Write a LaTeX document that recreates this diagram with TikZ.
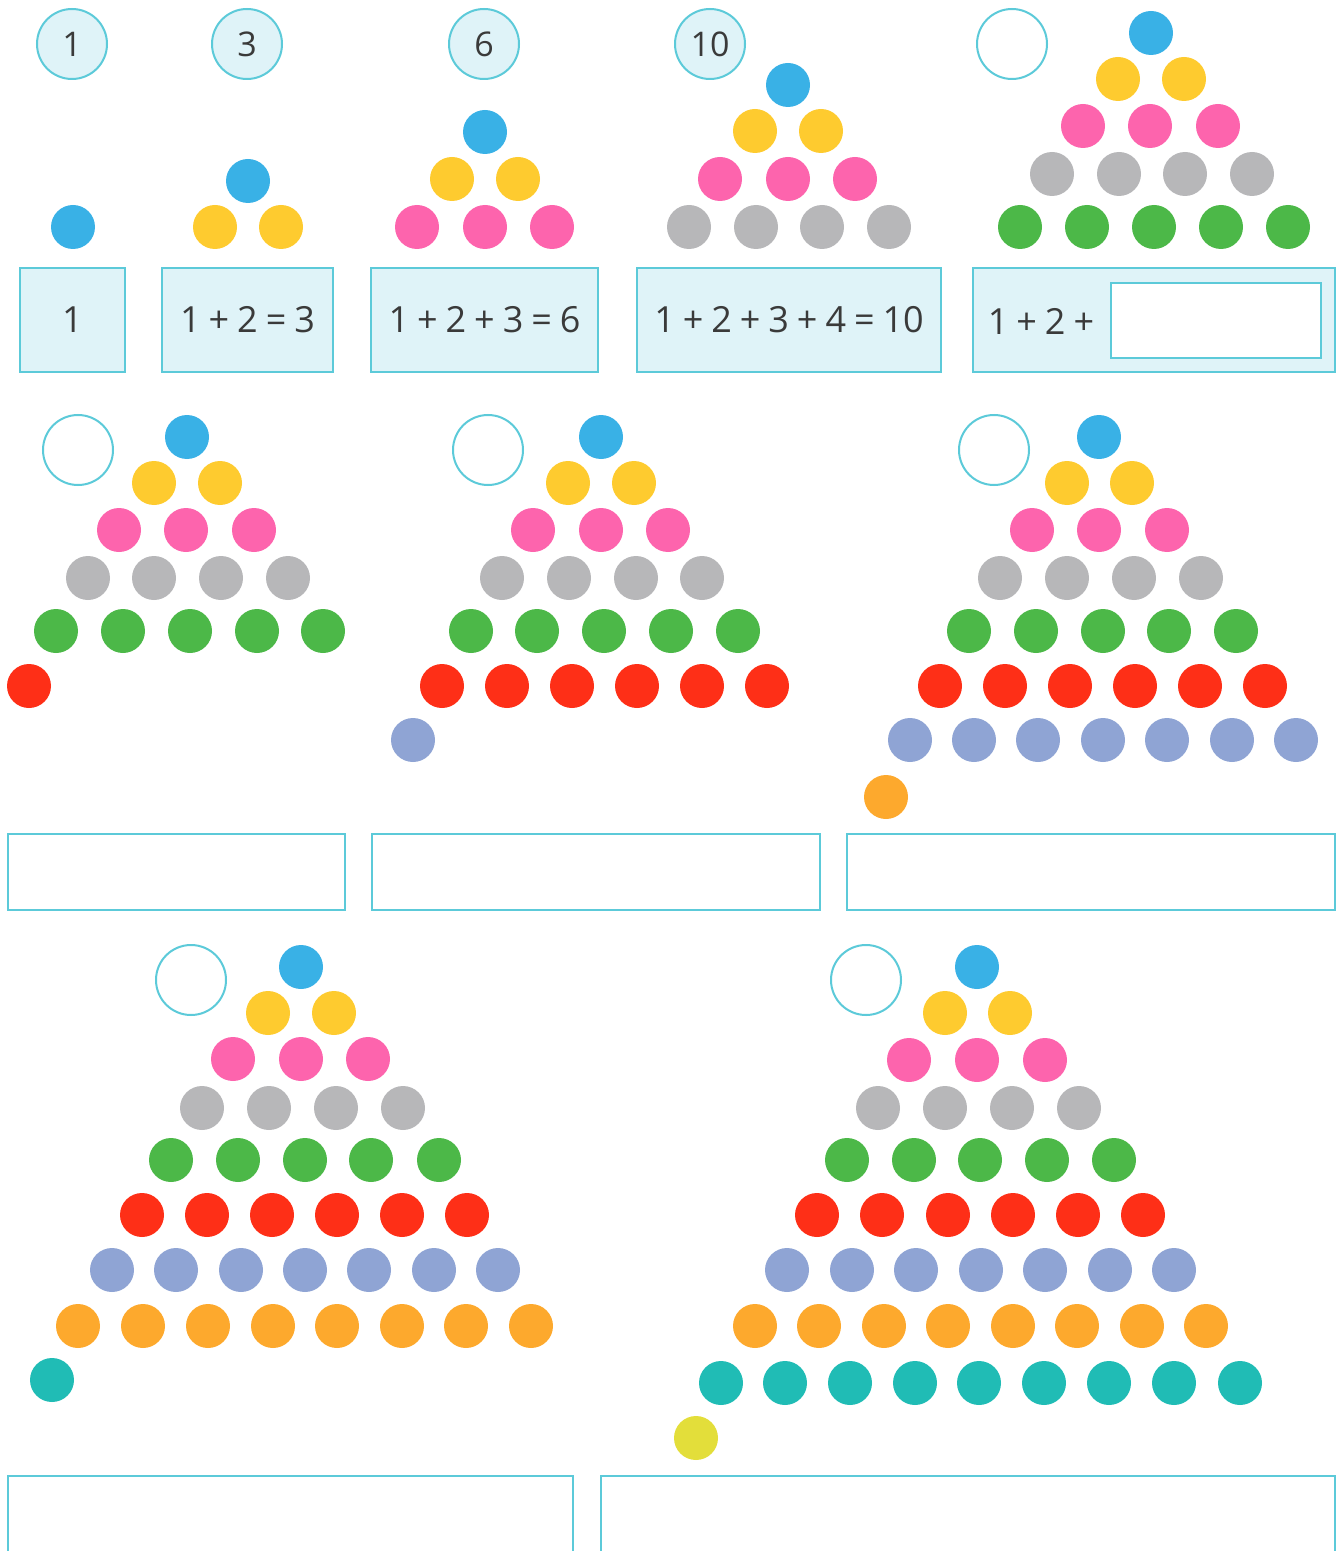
\documentclass[tikz,border=0pt]{standalone}
\usepackage{fontspec}
\setmainfont{Open Sans}[WordSpace=0.85]
\definecolor{cblue}{HTML}{39B1E6}
\definecolor{cyel}{HTML}{FECB2F}
\definecolor{cpink}{HTML}{FD64AD}
\definecolor{cgray}{HTML}{B7B7B9}
\definecolor{cgreen}{HTML}{4CB848}
\definecolor{cred}{HTML}{FE2F17}
\definecolor{cperi}{HTML}{8FA4D4}
\definecolor{corange}{HTML}{FDA92D}
\definecolor{cteal}{HTML}{20BCB5}
\definecolor{clime}{HTML}{E3DE3A}
\definecolor{cline}{HTML}{5CCAD9}
\definecolor{cfill}{HTML}{DFF3F8}
\definecolor{ctext}{HTML}{3A3A3A}
\newcommand\dotrow[4]{%
  \foreach \xx [count=\k] in {#4} {\node[bead,fill=#2] (#1-\k) at (\xx,#3) {};}}
\begin{document}
\begin{tikzpicture}[x=0.5pt,y=-0.5pt,
  bead/.style={circle,inner sep=0pt,minimum size=22pt,draw=none},
  lbl/.style={circle,inner sep=0pt,minimum size=35pt,draw=cline,line width=1pt,fill=cfill,text=ctext,font=\fontsize{17}{20}\selectfont},
  lblempty/.style={lbl,fill=white},
  sumbox/.style={rectangle,inner sep=0pt,draw=cline,line width=1pt,fill=cfill,text=ctext,font=\fontsize{18}{22}\selectfont},
  ansbox/.style={rectangle,inner sep=0pt,draw=cline,line width=1pt,fill=white}]
\useasboundingbox (0,0) rectangle (1342,1551);
\clip (0,0) rectangle (1342,1551);
% ---------- top row ----------
\node[lbl] (l1) at (72,44) {1};
\node[lbl] (l2) at (247,44) {3};
\node[lbl] (l3) at (484,44) {6};
\node[lbl] (l4) at (710,44) {10};
\node[lblempty] (l5) at (1012,44) {};
% group 1
\dotrow{ga1}{cblue}{227}{73}
% group 2
\dotrow{gb1}{cblue}{181}{248}
\dotrow{gb2}{cyel}{227}{215,281}
% group 3
\dotrow{gc1}{cblue}{132}{485}
\dotrow{gc2}{cyel}{179}{452,518}
\dotrow{gc3}{cpink}{227}{417,485,552}
% group 4
\dotrow{gd1}{cblue}{85}{788}
\dotrow{gd2}{cyel}{131}{755,821}
\dotrow{gd3}{cpink}{179}{720,788,855}
\dotrow{gd4}{cgray}{227}{689,756,822,889}
% group 5
\dotrow{ge1}{cblue}{33}{1151}
\dotrow{ge2}{cyel}{79}{1118,1184}
\dotrow{ge3}{cpink}{126}{1083,1150,1218}
\dotrow{ge4}{cgray}{174}{1052,1119,1185,1252}
\dotrow{ge5}{cgreen}{227}{1020,1087,1154,1221,1288}
% sum boxes
\node[sumbox,minimum width=52.5pt,minimum height=52pt] (b1) at (72.5,320) {1};
\node[sumbox,minimum width=85.5pt,minimum height=52pt] (b2) at (247.5,320) {1 + 2 = 3};
\node[sumbox,minimum width=113.5pt,minimum height=52pt] (b3) at (484.5,320) {1 + 2 + 3 = 6};
\node[sumbox,minimum width=152pt,minimum height=52pt] (b4) at (789,320) {1 + 2 + 3 + 4 = 10};
\node[sumbox,minimum width=181pt,minimum height=52pt] (b5) at (1154,320) {};
\node[text=ctext,font=\fontsize{18}{22}\selectfont,inner sep=0pt] (b5t) at (1041,321) {1 + 2 +};
\node[ansbox,minimum width=105pt,minimum height=37.5pt] (b5a) at (1215.5,321) {};
% ---------- middle row ----------
\node[lblempty] (l6) at (78,450) {};
\node[lblempty] (l7) at (488,450) {};
\node[lblempty] (l8) at (994,450) {};
% group 6
\dotrow{gf1}{cblue}{437}{187}
\dotrow{gf2}{cyel}{483}{154,220}
\dotrow{gf3}{cpink}{530}{119,186,254}
\dotrow{gf4}{cgray}{578}{88,154,221,288}
\dotrow{gf5}{cgreen}{631}{56,123,190,257,323}
\dotrow{gf6}{cred}{686}{29}
% group 7
\dotrow{gg1}{cblue}{437}{601}
\dotrow{gg2}{cyel}{483}{568,634}
\dotrow{gg3}{cpink}{530}{533,601,668}
\dotrow{gg4}{cgray}{578}{502,569,636,702}
\dotrow{gg5}{cgreen}{631}{471,537,604,671,738}
\dotrow{gg6}{cred}{686}{442,507,572,637,702,767}
\dotrow{gg7}{cperi}{740}{413}
% group 8
\dotrow{gh1}{cblue}{437}{1099}
\dotrow{gh2}{cyel}{483}{1067,1132}
\dotrow{gh3}{cpink}{530}{1032,1099,1167}
\dotrow{gh4}{cgray}{578}{1000,1067,1134,1201}
\dotrow{gh5}{cgreen}{631}{969,1036,1103,1169,1236}
\dotrow{gh6}{cred}{686}{940,1005,1070,1135,1200,1265}
\dotrow{gh7}{cperi}{740}{910,974,1038,1103,1167,1232,1296}
\dotrow{gh8}{corange}{797}{886}
% answer boxes
\node[ansbox,minimum width=168.5pt,minimum height=38pt] (b6) at (176.5,872) {};
\node[ansbox,minimum width=224pt,minimum height=38pt] (b7) at (596,872) {};
\node[ansbox,minimum width=244pt,minimum height=38pt] (b8) at (1091,872) {};
% ---------- bottom row ----------
\node[lblempty] (l9) at (191,980) {};
\node[lblempty] (l10) at (866,980) {};
% group 9
\dotrow{gi1}{cblue}{967}{301}
\dotrow{gi2}{cyel}{1013}{268,334}
\dotrow{gi3}{cpink}{1059}{233,301,368}
\dotrow{gi4}{cgray}{1108}{202,269,336,403}
\dotrow{gi5}{cgreen}{1160}{171,238,305,371,439}
\dotrow{gi6}{cred}{1215}{142,207,272,337,402,467}
\dotrow{gi7}{cperi}{1270}{112,176,241,305,369,434,498}
\dotrow{gi8}{corange}{1326}{78,143,208,273,337,402,466,531}
\dotrow{gi9}{cteal}{1380}{52}
% group 10
\dotrow{gj1}{cblue}{967}{977}
\dotrow{gj2}{cyel}{1013}{945,1010}
\dotrow{gj3}{cpink}{1060}{909,977,1045}
\dotrow{gj4}{cgray}{1108}{878,945,1012,1079}
\dotrow{gj5}{cgreen}{1160}{847,914,980,1047,1114}
\dotrow{gj6}{cred}{1215}{817,882,948,1013,1078,1143}
\dotrow{gj7}{cperi}{1270}{787,852,916,981,1045,1110,1174}
\dotrow{gj8}{corange}{1326}{755,819,884,948,1013,1077,1142,1206}
\dotrow{gj9}{cteal}{1383}{721,785,850,915,979,1044,1109,1174,1240}
\dotrow{gj10}{clime}{1438}{696}
% answer boxes
\node[ansbox,minimum width=282.5pt,minimum height=42pt] (b9) at (290.5,1518) {};
\node[ansbox,minimum width=367pt,minimum height=42pt] (b10) at (968,1518) {};
\end{tikzpicture}
\end{document}
